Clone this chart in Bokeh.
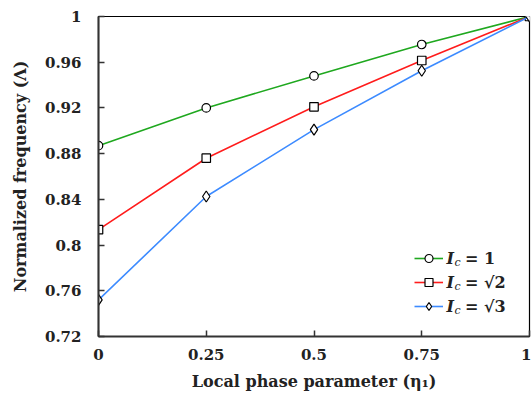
from bokeh.plotting import figure
from bokeh.models import (FixedTicker, CustomJSTickFormatter, Legend, LegendItem,
                          Label, Range1d)
from bokeh.embed import file_html
from bokeh.resources import INLINE

# ---- data ----
eta = [0, 0.25, 0.5, 0.75, 1]
lam_1 = [0.887, 0.920, 0.948, 0.9755, 1.0]
lam_sqrt2 = [0.8135, 0.876, 0.921, 0.9615, 1.0]
lam_sqrt3 = [0.752, 0.8425, 0.901, 0.9525, 1.0]
x_ticks = [0, 0.25, 0.5, 0.75, 1]
y_ticks = [0.72, 0.76, 0.80, 0.84, 0.88, 0.92, 0.96, 1.0]
legend_values = ["= 1", "= √2", "= √3"]

FONT = "DejaVu Serif"
W, H = 531, 399
L, R, T, B = 98, 2, 16, 63

p = figure(width=W, height=H, output_backend="svg", toolbar_location=None,
           x_range=Range1d(0, 1), y_range=Range1d(0.72, 1.0),
           min_border_left=L, min_border_right=R, min_border_top=T,
           min_border_bottom=B)
p.xgrid.visible = False
p.ygrid.visible = False
p.outline_line_color = "black"
p.outline_line_width = 1.2
p.background_fill_color = "white"
p.border_fill_color = "white"

fmt = CustomJSTickFormatter(code="""
var s = tick.toFixed(2);
s = s.replace(/0+$/, '').replace(/\\.$/, '');
return s;
""")

p.xaxis.ticker = FixedTicker(ticks=x_ticks)
p.yaxis.ticker = FixedTicker(ticks=y_ticks)
for ax in (p.xaxis[0], p.yaxis[0]):
    ax.formatter = fmt
    ax.major_tick_in = 6
    ax.major_tick_out = 0
    ax.minor_tick_in = 0
    ax.minor_tick_out = 0
    ax.axis_line_color = "#333333"
    ax.axis_line_width = 2
    ax.major_tick_line_color = "#333333"
    ax.major_tick_line_width = 1.5
    ax.major_label_text_font = FONT
    ax.major_label_text_font_style = "bold"
    ax.major_label_text_font_size = "15px"
    ax.major_label_text_color = "#222222"
    ax.axis_label_text_font = FONT
    ax.axis_label_text_font_style = "bold"
    ax.axis_label_text_color = "#222222"

p.xaxis.major_label_standoff = 12
p.yaxis.major_label_standoff = 17
p.xaxis.axis_label = "Local phase parameter (η₁)"
p.yaxis.axis_label = "Normalized frequency (Λ)"
p.xaxis.axis_label_text_font_size = "16px"
p.yaxis.axis_label_text_font_size = "16px"
p.xaxis.axis_label_standoff = 9
p.yaxis.axis_label_standoff = 12

series = [
    (lam_1, "#1fa81f", "circle", 8.5),
    (lam_sqrt2, "#ff1c1c", "square", 8.5),
    (lam_sqrt3, "#3d8bff", "diamond", 11),
]
items = []
for (vals, col, mk, sz), lab in zip(series, legend_values):
    ln = p.line(eta, vals, line_color=col, line_width=1.6)
    sc = p.scatter(eta, vals, marker=mk, size=sz, line_color="black",
                   line_width=1.2, fill_color="white")
    items.append(LegendItem(label=lab, renderers=[ln, sc]))

legend = Legend(items=items, location=(316, 20), padding=0, margin=0,
                glyph_width=29, glyph_height=20, spacing=4, label_standoff=22,
                border_line_color=None, background_fill_alpha=0,
                label_text_font=FONT, label_text_font_style="bold",
                label_text_font_size="16px", label_text_color="#222222")
p.add_layout(legend)

# "I_c" prefix of the legend labels (italic I with subscript c)
frame_w = W - L - R
frame_h = H - T - B


def px_to_data(xp, yp):
    return ((xp - L) / frame_w * 1.0,
            1.0 - (yp - T) / frame_h * 0.28)


row_y = [258, 282, 306]
for yp in row_y:
    xi, yi = px_to_data(446, yp)
    p.add_layout(Label(x=xi, y=yi, text="I", text_font=FONT,
                       text_font_style="bold italic", text_font_size="16px",
                       text_baseline="middle", text_color="#222222"))
    xc, yc = px_to_data(454, yp + 4)
    p.add_layout(Label(x=xc, y=yc, text="c", text_font=FONT,
                       text_font_style="italic", text_font_size="11px",
                       text_baseline="middle", text_color="#222222"))

open("out.html", "w").write(file_html(p, INLINE))
